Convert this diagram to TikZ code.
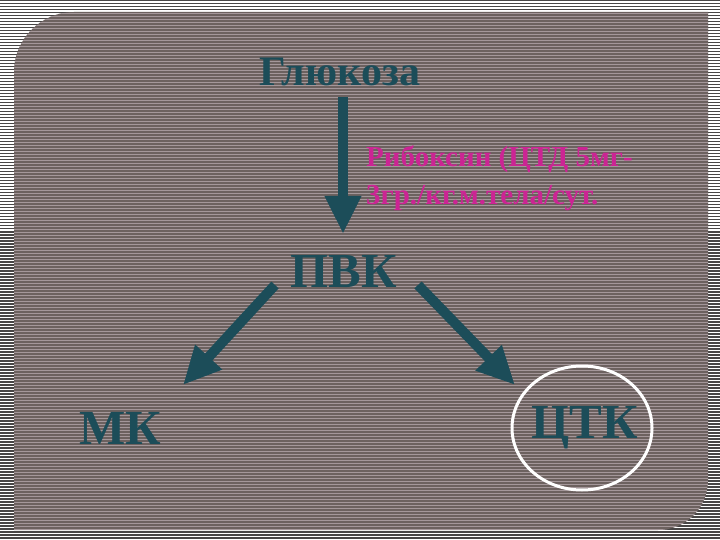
\documentclass[tikz,border=0pt]{standalone}
\usepackage{fontspec}
\setmainfont{Liberation Serif}
\usetikzlibrary{positioning, arrows.meta, calc}
\definecolor{teal}{HTML}{1C4D59}
\definecolor{pink}{HTML}{CC2494}
\definecolor{panel}{HTML}{6C615F}
\definecolor{panelline}{HTML}{A4979A}
\definecolor{outline}{HTML}{474545}
\tikzset{
  title/.style={
    text=teal,
    font=\bfseries\fontsize{42}{44}\selectfont,
    inner sep=0pt
  },
  big/.style={
    text=teal,
    font=\bfseries\fontsize{49}{52}\selectfont,
    inner sep=0pt
  },
  note/.style={
    text=pink,
    font=\bfseries\fontsize{29}{38}\selectfont,
    align=left,
    inner sep=0pt
  },
  fat/.style={
    draw=teal,
    line width=10pt,
    -{Triangle[width=34pt,length=38pt]}
  },
  ring/.style={
    draw=white,
    line width=3pt
  }
}

\begin{document}
\begin{tikzpicture}[x=1pt, y=-1pt]
\useasboundingbox (0,0) rectangle (720,540);

% background
\fill[white] (0,0) rectangle (720,540);
\foreach \k in {0,...,179}
  \fill[outline] (0,3*\k) rectangle (720,3*\k+1.5);

\fill[panel] (14,530) -- (14,72) .. controls (14,39) and (41,12) .. (74,12)
  -- (708,12) -- (708,480) .. controls (708,508) and (686,530) .. (658,530) -- cycle;
\begin{scope}
  \clip (14,530) -- (14,72) .. controls (14,39) and (41,12) .. (74,12)
    -- (708,12) -- (708,480) .. controls (708,508) and (686,530) .. (658,530) -- cycle;
  \foreach \k in {0,...,179}
    \fill[panelline] (0,3*\k+1) rectangle (720,3*\k+2);
\end{scope}

% nodes
\node[title] (gluc) at (340,72) {Глюкоза};
\node[big] (pvk) at (344,272) {ПВК};
\node[big] (mk) at (120,428) {МК};
\node[big] (ctk) at (585,428) {ЦТК};
\node[note, anchor=north west] (drug) at (366,146)
  {Рибоксин (ЦТД 5мг-\\3гр./кг.м.тела/сут.};

% edges
\draw[fat] ($(gluc)+(3,25)$) -- ($(pvk)+(-1,-38)$);
\draw[fat] ($(pvk)+(-69,13)$) -- ($(mk)+(63,-43)$);
\draw[fat] ($(pvk)+(74,13)$) -- ($(ctk)+(-70,-43)$);
\draw[ring] ($(ctk)+(-3,0)$) ellipse [x radius=70, y radius=62];

\end{tikzpicture}
\end{document}
